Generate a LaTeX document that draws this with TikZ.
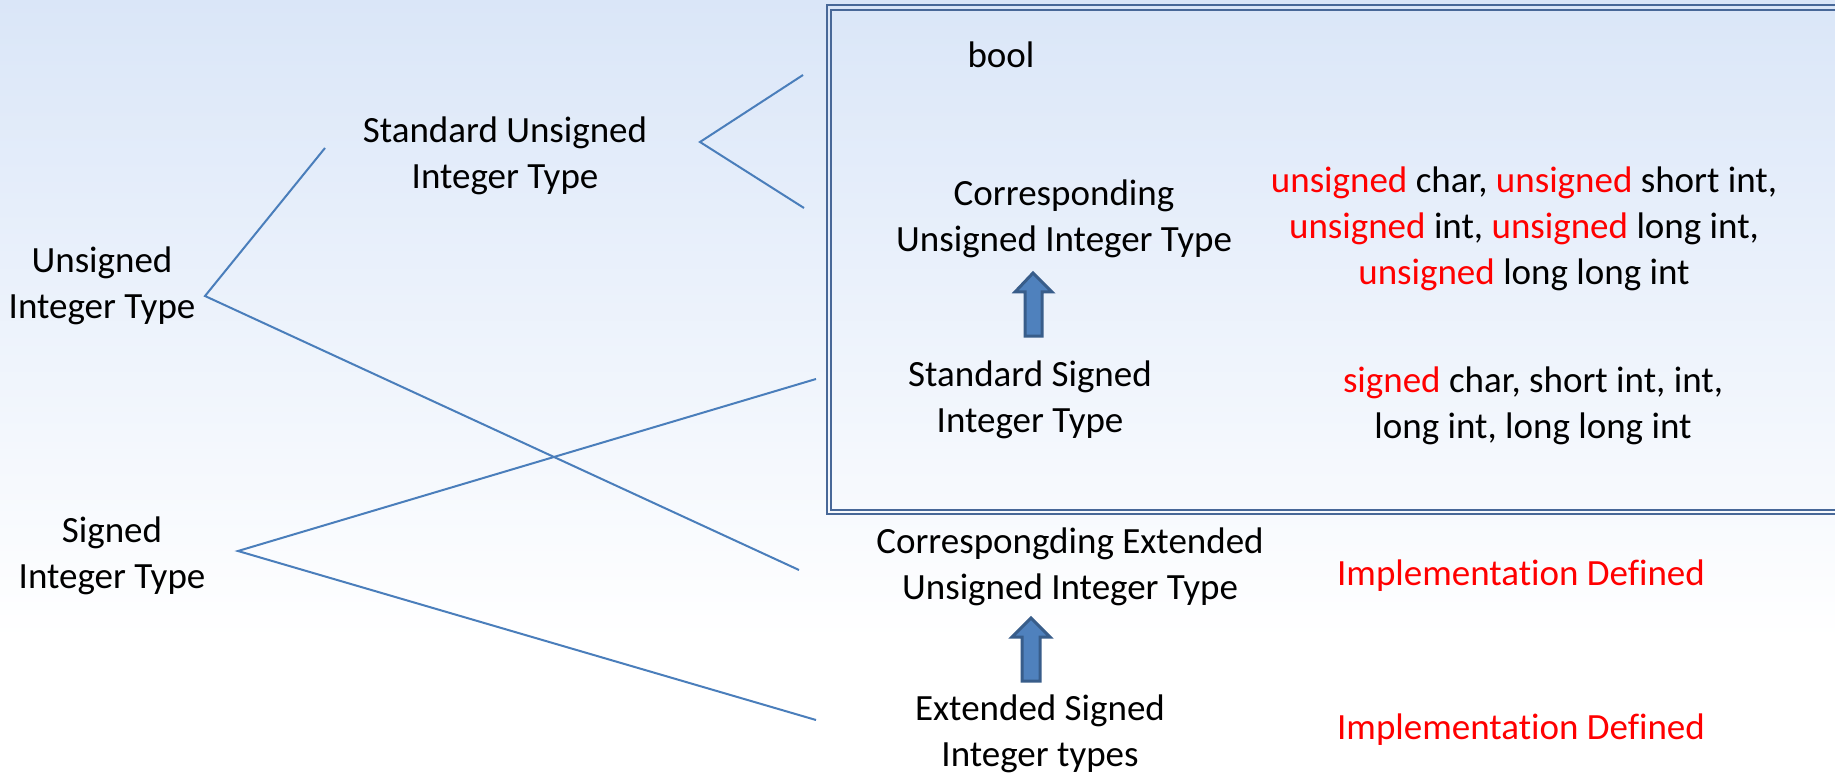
\documentclass[tikz,border=0pt]{standalone}
\usepackage{fontspec}
\setmainfont{Carlito}[Ligatures={NoCommon}]
\definecolor{bgtop}{RGB}{218,230,248}
\definecolor{linkblue}{RGB}{74,126,187}
\definecolor{frameblue}{RGB}{72,104,152}
\definecolor{arrowfill}{RGB}{79,129,189}
\definecolor{arrowedge}{RGB}{56,93,138}
\newcommand{\rows}[1]{\begin{tabular}[t]{@{}c@{}}#1\end{tabular}}
\newcommand{\kw}[1]{\textcolor{red}{#1}}
\begin{document}
\begin{tikzpicture}[x=1pt,y=-1pt,
  lbl/.style={anchor=base, inner sep=0pt, font=\fontsize{37}{46}\selectfont},
  redlbl/.style={lbl, text=red},
  link/.style={draw=linkblue, line width=2pt},
  frame/.style={draw=frameblue, line width=1.6pt},
  blockarrow/.style={fill=arrowfill, draw=arrowedge, line width=3pt, line join=miter}]
\useasboundingbox (0,0) rectangle (1835,775);

% backdrop: light blue fading to white
\shade[top color=bgtop, bottom color=white] (0,0) rectangle (1835,640);
\fill[white] (0,640) rectangle (1835,775);

% double frame round the standard types
\begin{scope}
  \clip (0,0) rectangle (1835,775);
  \draw[frame] (827,5) rectangle (1860,514);
  \draw[frame] (831,10) rectangle (1860,510);
\end{scope}

% labels
\node[lbl] (unsig) at (102,273) {\rows{Unsigned\\Integer Type}};
\node[lbl] (sig) at (112,542) {\rows{Signed\\Integer Type}};
\node[lbl] (stdu) at (505,143) {\rows{Standard Unsigned\\Integer Type}};
\node[lbl] (bool) at (1001,68) {bool};
\node[lbl] (corr) at (1064,206) {\rows{Corresponding\\Unsigned Integer Type}};
\node[lbl] (stds) at (1030,386) {\rows{Standard Signed\\Integer Type}};
\node[lbl] (ulist) at (1524,193) {\rows{\kw{unsigned} char, \kw{unsigned} short int,\\
  \kw{unsigned} int, \kw{unsigned} long int,\\ \kw{unsigned} long long int}};
\node[lbl] (slist) at (1533,392) {\rows{\kw{signed} char, short int, int,\\long int, long long int}};
\node[lbl] (ceu) at (1070,553) {\rows{Correspongding Extended\\Unsigned Integer Type}};
\node[lbl] (exts) at (1040,720) {\rows{Extended Signed\\Integer types}};
\node[redlbl] (impl1) at (1521,585) {Implementation Defined};
\node[redlbl] (impl2) at (1521,739) {Implementation Defined};

% branch points and line ends
\coordinate (uJ) at (205,296);
\coordinate (uTop) at (325,148);
\coordinate (uLow) at (799,570);
\coordinate (suJ) at (700,142);
\coordinate (suBool) at (803,75);
\coordinate (suCorr) at (804,208);
\coordinate (sJ) at (238,551);
\coordinate (sStd) at (816,379);
\coordinate (sExt) at (816,720);

\draw[link] (uTop) -- (uJ) -- (uLow);
\draw[link] (suBool) -- (suJ) -- (suCorr);
\draw[link] (sStd) -- (sJ) -- (sExt);

% block arrows from signed to unsigned counterparts
\draw[blockarrow] (1025,336) -- (1025,292) -- (1015,292) -- (1033,273)
  -- (1052,292) -- (1042,292) -- (1042,336) -- cycle;
\draw[blockarrow] (1022,681) -- (1022,637) -- (1012,637) -- (1031,618)
  -- (1050,637) -- (1040,637) -- (1040,681) -- cycle;
\end{tikzpicture}
\end{document}
